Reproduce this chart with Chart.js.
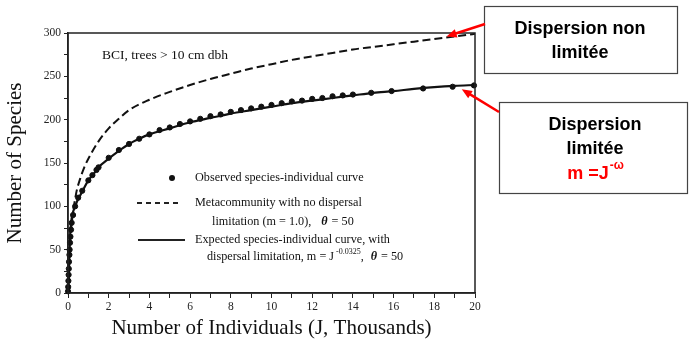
<!DOCTYPE html>
<html lang="fr">
<head>
    <meta charset="UTF-8">
    <title>Species-individual curve, BCI</title>
    <script src="https://cdn.jsdelivr.net/npm/chart.js@4.4.0/dist/chart.umd.min.js"></script>
    <style>
        *{box-sizing:border-box}
        body{margin:0;background:#fff}
        #wrap{width:689px;height:342px}
    </style>
</head>
<body>
<div id="wrap"><canvas id="chart" width="689" height="342"></canvas></div>
<script>
    // Values (J in thousands of individuals)
    // Observed species-individual curve (dots)
    const obsJ = [0, 0.01, 0.02, 0.03, 0.04, 0.05, 0.07, 0.08, 0.1, 0.12, 0.15, 0.18, 0.25, 0.35, 0.5, 0.7, 1.0, 1.2, 1.4, 1.5,
                  2.0, 2.5, 3.0, 3.5, 4.0, 4.5, 5.0, 5.5, 6.0, 6.5, 7.0, 7.5, 8.0, 8.5, 9.0, 9.5, 10.0, 10.5, 11.0, 11.5,
                  12.0, 12.5, 13.0, 13.5, 14.0, 14.9, 15.9, 17.45, 18.9, 19.95];
    const obsS = [2, 7, 14, 21, 28, 36, 44, 50, 58, 65, 73, 81, 90, 100, 110, 118, 130, 136, 142, 145,
                  156, 165, 172, 178, 183, 188, 191, 195, 198, 201, 204, 206, 209, 211, 213, 215, 217, 219, 221, 222,
                  224, 225, 227, 228, 229, 231, 233, 236, 238, 239.5];

    // Metacommunity with no dispersal limitation (dashed)
    const metaJ = [0, 0.05, 0.1, 0.2, 0.4, 0.6, 0.8, 1.0, 1.5, 2.0, 2.5, 3, 4, 5, 6, 7, 8, 9, 10, 11, 12, 13, 14, 15, 16, 17, 18, 19, 20];
    const metaS = [0, 40, 60, 84, 115, 132, 145, 155, 175, 190, 201, 211, 223, 232, 240, 247, 253, 259, 264, 269, 273, 277, 281, 284, 287, 290, 293, 296, 299];

    // Expected species-individual curve with dispersal limitation (solid)
    const expJ = [0, 0.02, 0.04, 0.06, 0.08, 0.1, 0.15, 0.35, 0.7, 1.0, 1.35, 1.5, 2, 2.5, 3, 3.5, 4, 5, 6, 7, 8, 9, 10, 11, 12, 13, 13.5, 14, 15, 16, 17, 18, 19, 20];
    const expS = [0, 7, 21, 36, 50, 65, 81, 100, 117, 130, 140, 145, 155, 164, 172, 178, 183, 190, 197, 202, 207, 211, 215, 219, 222, 225, 226.5, 228, 231, 233, 235.5, 237.5, 239, 240];

    // Labelled ticks
    const xLabels = [0, 2, 4, 6, 8, 10, 12, 14, 16, 18, 20];
    const yLabels = [0, 50, 100, 150, 200, 250, 300];

    const serif = '"Liberation Serif", "DejaVu Serif", serif';
    const sans = '"Liberation Sans", Arial, sans-serif';

    function toPoints(xs, ys) {
        return xs.map((v, i) => ({x: v, y: ys[i]}));
    }

    function arrow(ctx, x1, y1, x2, y2) {
        const ang = Math.atan2(y2 - y1, x2 - x1);
        const head = 11;
        ctx.beginPath();
        ctx.moveTo(x1, y1);
        ctx.lineTo(x2 - Math.cos(ang) * head * 0.8, y2 - Math.sin(ang) * head * 0.8);
        ctx.stroke();
        ctx.beginPath();
        ctx.moveTo(x2, y2);
        ctx.lineTo(x2 - head * Math.cos(ang - 0.4), y2 - head * Math.sin(ang - 0.4));
        ctx.lineTo(x2 - head * Math.cos(ang + 0.4), y2 - head * Math.sin(ang + 0.4));
        ctx.closePath();
        ctx.fill();
    }

    // Frame, in-plot legend, callout boxes and arrows
    const annotations = {
        id: 'annotations',
        afterDraw(chart) {
            const {ctx, chartArea: a, scales: {x, y}} = chart;
            ctx.save();

            // full box round the plot
            ctx.strokeStyle = '#222';
            ctx.lineWidth = 1.5;
            ctx.strokeRect(a.left, a.top, a.right - a.left, a.bottom - a.top);

            ctx.fillStyle = '#111';
            ctx.textBaseline = 'middle';
            ctx.textAlign = 'left';
            ctx.font = '13.5px ' + serif;
            ctx.fillText('BCI, trees > 10 cm dbh', 102, 55);

            // legend
            const lf = '12.2px ' + serif;
            ctx.font = lf;
            ctx.beginPath();
            ctx.arc(172, 178, 3, 0, Math.PI * 2);
            ctx.fill();
            ctx.fillText('Observed species-individual curve', 195, 178);

            ctx.lineWidth = 1.8;
            ctx.setLineDash([5, 4]);
            ctx.beginPath();
            ctx.moveTo(137, 203);
            ctx.lineTo(182, 203);
            ctx.stroke();
            ctx.setLineDash([]);
            ctx.fillText('Metacommunity with no dispersal', 195, 203);

            let tx = 212;
            ctx.fillText('limitation (m = 1.0),', tx, 222);
            tx += ctx.measureText('limitation (m = 1.0),').width + 10;
            ctx.font = 'italic bold ' + lf;
            ctx.fillText('\u03b8', tx, 222);
            tx += ctx.measureText('\u03b8').width + 4;
            ctx.font = lf;
            ctx.fillText('= 50', tx, 222);

            ctx.lineWidth = 2;
            ctx.beginPath();
            ctx.moveTo(138, 240);
            ctx.lineTo(185, 240);
            ctx.stroke();
            ctx.fillText('Expected species-individual curve, with', 195, 240);

            tx = 207;
            ctx.fillText('dispersal limitation, m = J', tx, 257);
            tx += ctx.measureText('dispersal limitation, m = J').width + 2;
            ctx.font = '8px ' + serif;
            ctx.fillText('-0.0325', tx, 252);
            tx += ctx.measureText('-0.0325').width;
            ctx.font = lf;
            ctx.fillText(',', tx, 257);
            tx += 10;
            ctx.font = 'italic bold ' + lf;
            ctx.fillText('\u03b8', tx, 257);
            tx += ctx.measureText('\u03b8').width + 4;
            ctx.font = lf;
            ctx.fillText('= 50', tx, 257);

            // callout boxes
            ctx.strokeStyle = '#444';
            ctx.lineWidth = 1.2;
            ctx.fillStyle = '#fff';
            ctx.fillRect(484, 6, 193, 67);
            ctx.strokeRect(484.5, 6.5, 193, 67);
            ctx.fillRect(499, 102, 189, 91);
            ctx.strokeRect(499.5, 102.5, 188, 91);

            ctx.fillStyle = '#000';
            ctx.textAlign = 'center';
            ctx.font = 'bold 18px ' + sans;
            ctx.fillText('Dispersion non', 580, 29);
            ctx.fillText('limit\u00e9e', 580, 53);
            ctx.fillText('Dispersion', 595, 125);
            ctx.fillText('limit\u00e9e', 595, 149);

            ctx.fillStyle = '#f00';
            ctx.textAlign = 'left';
            const base = 'm =J';
            const bw = ctx.measureText(base).width;
            ctx.font = 'bold 12px ' + sans;
            const sw = ctx.measureText('-\u03c9').width;
            const sx = 595 - (bw + sw) / 2;
            ctx.font = 'bold 18px ' + sans;
            ctx.fillText(base, sx, 174);
            ctx.font = 'bold 12px ' + sans;
            ctx.fillText('-\u03c9', sx + bw + 1, 166);

            // red arrows pointing at the two curves
            ctx.strokeStyle = '#f00';
            ctx.fillStyle = '#f00';
            ctx.lineWidth = 2.5;
            arrow(ctx, 485, 24, x.getPixelForValue(18.6), y.getPixelForValue(296));
            arrow(ctx, 499, 112, x.getPixelForValue(19.35), y.getPixelForValue(235));

            ctx.restore();
        }
    };

    const ctx = document.getElementById('chart').getContext('2d');
    new Chart(ctx, {
        type: 'line',
        data: {
            datasets: [{
                label: 'Metacommunity with no dispersal limitation',
                data: toPoints(metaJ, metaS),
                borderColor: '#111',
                borderWidth: 2,
                borderDash: [8, 4],
                pointRadius: 0,
                cubicInterpolationMode: 'monotone',
                fill: false
            }, {
                label: 'Expected species-individual curve',
                data: toPoints(expJ, expS),
                borderColor: '#111',
                borderWidth: 2.2,
                pointRadius: 0,
                cubicInterpolationMode: 'monotone',
                fill: false
            }, {
                type: 'scatter',
                label: 'Observed species-individual curve',
                data: toPoints(obsJ, obsS),
                backgroundColor: '#111',
                borderColor: '#111',
                pointRadius: 2.6,
                showLine: false,
                clip: false
            }]
        },
        options: {
            responsive: false,
            animation: false,
            devicePixelRatio: 1,
            layout: {padding: {top: 33, right: 214, left: 0, bottom: 0}},
            plugins: {
                legend: {display: false},
                tooltip: {enabled: false}
            },
            scales: {
                x: {
                    type: 'linear',
                    min: 0,
                    max: 20,
                    afterFit: s => { s.height = 49; },
                    ticks: {
                        stepSize: 1,
                        autoSkip: false,
                        maxRotation: 0,
                        padding: 2,
                        color: '#222',
                        font: {family: serif, size: 11.5},
                        callback: v => xLabels.includes(v) ? v : ''
                    },
                    grid: {drawOnChartArea: false, tickLength: 5, color: '#222', lineWidth: 1},
                    border: {color: '#222', width: 1.5},
                    title: {
                        display: true,
                        text: 'Number of Individuals (J, Thousands)',
                        color: '#111',
                        font: {family: serif, size: 21},
                        padding: {top: 0, bottom: 1}
                    }
                },
                y: {
                    min: 0,
                    max: 300,
                    afterFit: s => { s.width = 68; },
                    ticks: {
                        stepSize: 25,
                        autoSkip: false,
                        padding: 3,
                        color: '#222',
                        font: {family: serif, size: 11.5},
                        callback: v => yLabels.includes(v) ? v : ''
                    },
                    grid: {drawOnChartArea: false, tickLength: 4, color: '#222', lineWidth: 1},
                    border: {color: '#222', width: 1.5},
                    title: {
                        display: true,
                        text: 'Number of Species',
                        color: '#111',
                        font: {family: serif, size: 21},
                        padding: {top: 3, bottom: 0}
                    }
                }
            }
        },
        plugins: [annotations]
    });
</script>
</body>
</html>
